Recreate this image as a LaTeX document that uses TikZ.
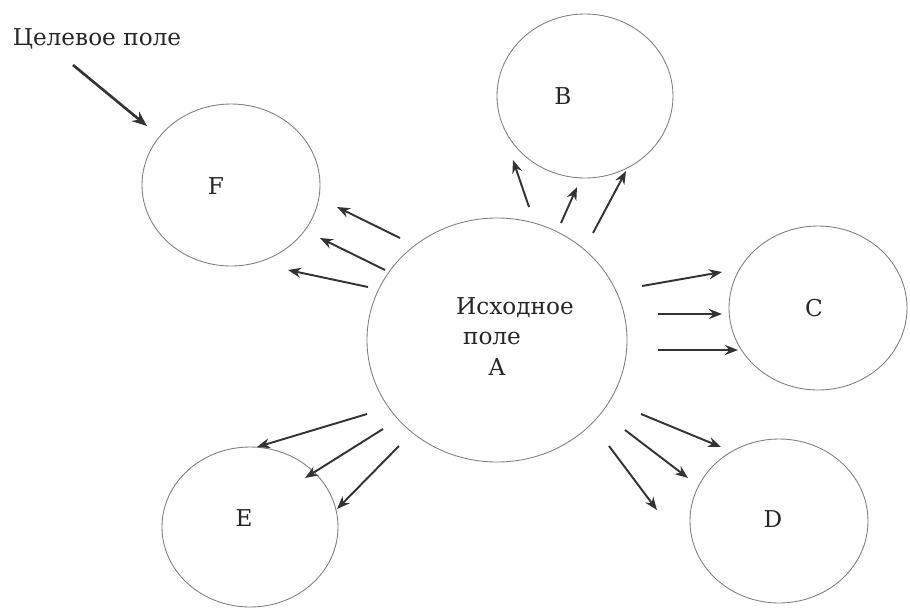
\documentclass[tikz,border=0pt]{standalone}
\usepackage{fontspec}
\setmainfont{DejaVu Serif}
\usetikzlibrary{shapes.geometric, arrows.meta}

\tikzset{
  field/.style={ellipse, draw=black!50, line width=0.5pt, inner sep=0pt},
  fieldlabel/.style={font=\fontsize{13.2}{15}\selectfont, text=black!85},
  flow/.style={-{Stealth[length=2.6mm,width=2mm]}, line width=1.1pt, draw=black!80},
  target/.style={-{Stealth[length=3mm,width=2.4mm]}, line width=1.5pt, draw=black!80}
}

\begin{document}
\begin{tikzpicture}[x=0.2mm, y=-0.2mm]
    \useasboundingbox (0,0) rectangle (910,608);
    % Draw the fields
    \node [field, minimum width=52mm, minimum height=48.8mm] (A) at (497,340) {};
    \node [field, minimum width=35.2mm, minimum height=32.8mm] (B) at (585,96) {};
    \node [field, minimum width=35.6mm, minimum height=32.8mm] (C) at (818,308) {};
    \node [field, minimum width=35.6mm, minimum height=32.8mm] (D) at (779,521) {};
    \node [field, minimum width=35.2mm, minimum height=32mm] (E) at (250,527) {};
    \node [field, minimum width=35.6mm, minimum height=32.4mm] (F) at (231,185) {};

    % Labels
    \node [fieldlabel] (a_1) at (515,308) {Исходное};
    \node [fieldlabel] (a_2) at (492,338) {поле};
    \node [fieldlabel] (a_3) at (497,367) {A};
    \node [fieldlabel] (b) at (563,96) {B};
    \node [fieldlabel] (c) at (814,308) {C};
    \node [fieldlabel] (d) at (773,519) {D};
    \node [fieldlabel] (e) at (244,518) {E};
    \node [fieldlabel] (f) at (216,186) {F};
    \node [fieldlabel] (goal) at (97,39) {Целевое поле};

    % Arrow to the target field
    \coordinate (g_1) at (73,65);
    \coordinate (g_2) at (147,126);
    \draw [target] (g_1) -- (g_2);

    % Arrows towards F
    \coordinate (f_1) at (400,238);  \coordinate (f_2) at (337,207);
    \coordinate (f_3) at (385,270);  \coordinate (f_4) at (320,238);
    \coordinate (f_5) at (368,287);  \coordinate (f_6) at (288,270);
    \draw [flow] (f_1) -- (f_2);
    \draw [flow] (f_3) -- (f_4);
    \draw [flow] (f_5) -- (f_6);

    % Arrows towards B
    \coordinate (b_1) at (529,207);  \coordinate (b_2) at (513,160);
    \coordinate (b_3) at (561,223);  \coordinate (b_4) at (577,187);
    \coordinate (b_5) at (593,233);  \coordinate (b_6) at (626,171);
    \draw [flow] (b_1) -- (b_2);
    \draw [flow] (b_3) -- (b_4);
    \draw [flow] (b_5) -- (b_6);

    % Arrows towards C
    \coordinate (c_1) at (642,286);  \coordinate (c_2) at (722,272);
    \coordinate (c_3) at (658,314);  \coordinate (c_4) at (722,314);
    \coordinate (c_5) at (658,350);  \coordinate (c_6) at (738,350);
    \draw [flow] (c_1) -- (c_2);
    \draw [flow] (c_3) -- (c_4);
    \draw [flow] (c_5) -- (c_6);

    % Arrows towards D
    \coordinate (d_1) at (641,414);  \coordinate (d_2) at (721,447);
    \coordinate (d_3) at (625,430);  \coordinate (d_4) at (688,478);
    \coordinate (d_5) at (609,446);  \coordinate (d_6) at (657,510);
    \draw [flow] (d_1) -- (d_2);
    \draw [flow] (d_3) -- (d_4);
    \draw [flow] (d_5) -- (d_6);

    % Arrows towards E
    \coordinate (e_1) at (367,414);  \coordinate (e_2) at (257,447);
    \coordinate (e_3) at (383,429);  \coordinate (e_4) at (305,478);
    \coordinate (e_5) at (399,446);  \coordinate (e_6) at (337,509);
    \draw [flow] (e_1) -- (e_2);
    \draw [flow] (e_3) -- (e_4);
    \draw [flow] (e_5) -- (e_6);
  \end{tikzpicture}
\end{document}
